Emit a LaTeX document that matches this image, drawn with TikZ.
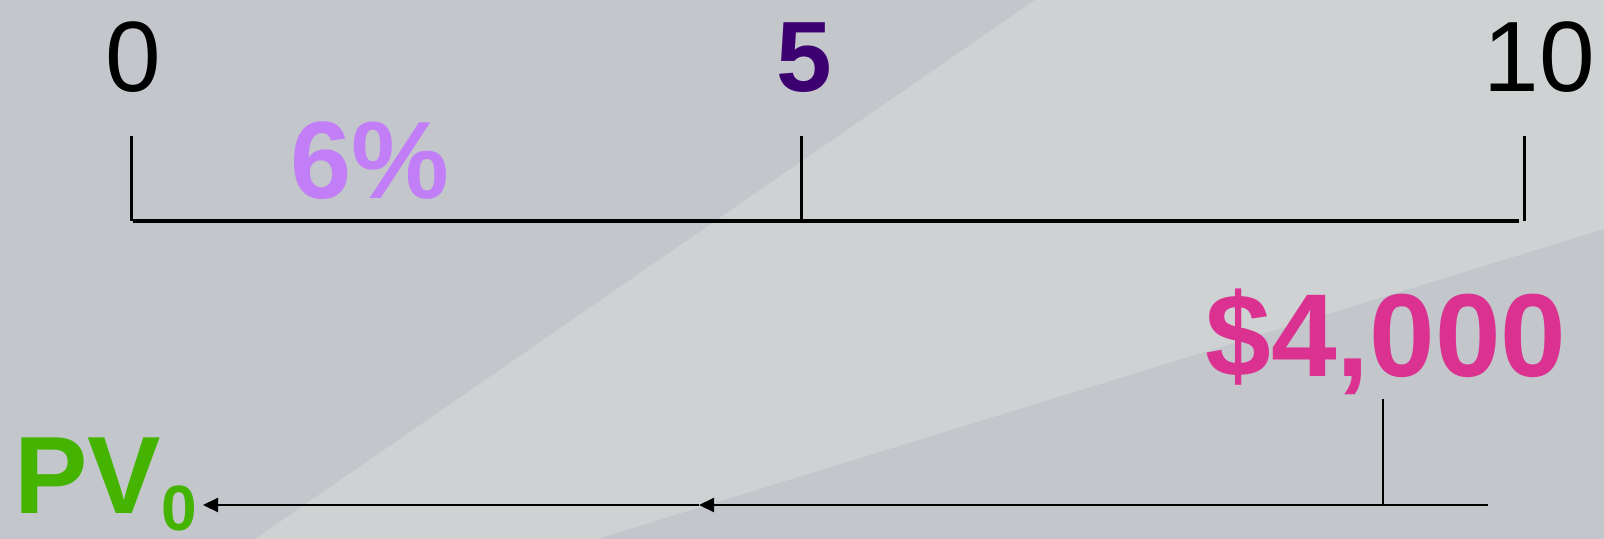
\documentclass[tikz,border=0pt]{standalone}
\usepackage{fontspec}
\setmainfont{Liberation Sans}
\usetikzlibrary{arrows.meta}

\definecolor{bgdark}{HTML}{C3C6CB}
\definecolor{bglight}{HTML}{CED2D2}
\definecolor{fivecol}{HTML}{3D0070}
\definecolor{ratecol}{HTML}{C27EF7}
\definecolor{cashcol}{HTML}{DB3190}
\definecolor{pvcol}{HTML}{44B400}

\tikzset{
	lbl/.style={inner sep=0pt, anchor=base},
	flow/.style={-{Triangle[length=7.5pt,width=7pt]}, line width=1.1pt}
}

\begin{document}
\begin{tikzpicture}[x=0.5pt, y=-0.5pt]

		% background

		\useasboundingbox (0,0) rectangle (1604,539);

		\fill[bgdark] (0,0) rectangle (1604,539);

		\fill[bglight] (1035,0) -- (1604,0) -- (1604,229) -- (597,539) -- (255,539) -- cycle;

		% define point

		\coordinate (T0)  at (131, 136);

		\coordinate (T5)  at (801, 136);

		\coordinate (T10) at (1524, 136);

		\coordinate (L0)  at (133, 221);

		\coordinate (L10) at (1519, 221);

		% time line

		\draw[line width=2.2pt] (L0) -- (L10);

		\draw[line width=1.5pt] (T0) -- (T0 |- L0);

		\draw[line width=1.5pt] (T5) -- (T5 |- L0);

		\draw[line width=1.5pt] (T10) -- (T10 |- L0);

		% labels

		\node[lbl] (n0)  at (133, 92) {\fontsize{50}{50}\selectfont 0};

		\node[lbl, text=fivecol] (n5)  at (804, 92) {\fontsize{50}{50}\selectfont\bfseries 5};

		\node[lbl] (n10) at (1539, 92) {\fontsize{50}{50}\selectfont 10};

		\node[lbl, text=ratecol] (rate) at (370, 199) {\fontsize{55}{55}\selectfont\bfseries 6\%};

		\node[lbl, text=cashcol] (cash) at (1386, 376) {\fontsize{59}{59}\selectfont\bfseries \$4,000};

		\node[lbl, anchor=base west, text=pvcol] (pv) at (14, 513) {\fontsize{55}{55}\selectfont\bfseries PV\raisebox{-8.5pt}{\fontsize{32}{32}\selectfont 0}};

		% discounting

		\coordinate (C10) at (1383, 399);

		\coordinate (A10) at (1488, 505);

		\coordinate (A5)  at (699, 505);

		\coordinate (A0)  at (203, 505);

		\draw[line width=1pt] (C10) -- (C10 |- A10);

		\draw [flow] (A10) -- (A5);

		\draw [flow] (A5) -- (A0);

	\end{tikzpicture}
\end{document}
